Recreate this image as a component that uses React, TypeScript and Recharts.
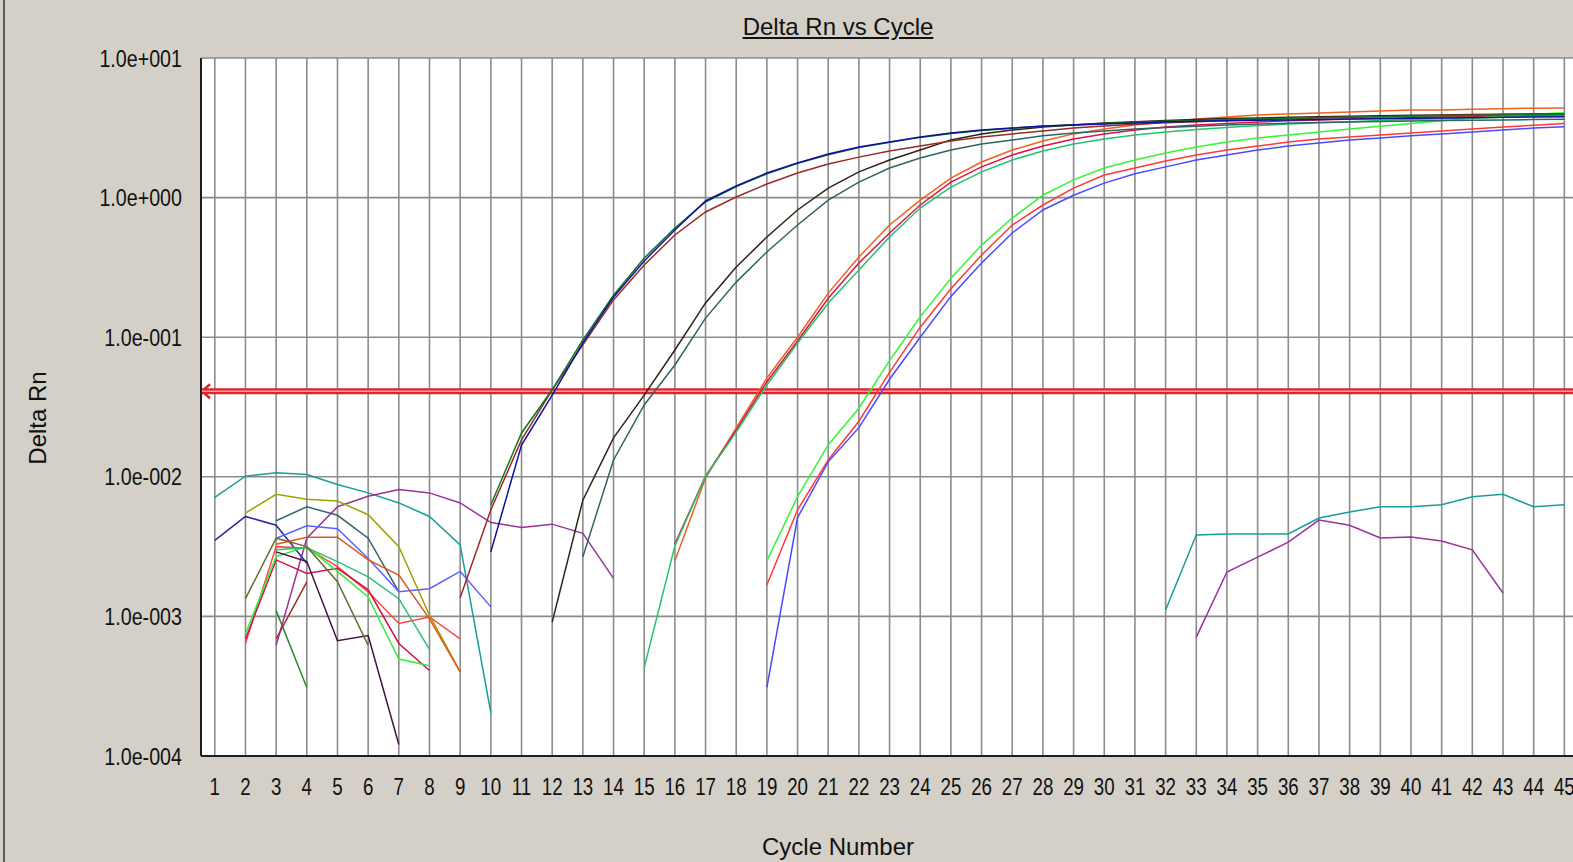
import React from "react";
import { LineChart, Line, XAxis, YAxis, CartesianGrid, ReferenceLine } from "recharts";

const cycles = [
  1, 2, 3, 4, 5, 6, 7, 8, 9, 10, 11, 12, 13, 14, 15, 16, 17, 18, 19, 20, 21, 22, 23,
  24, 25, 26, 27, 28, 29, 30, 31, 32, 33, 34, 35, 36, 37, 38, 39, 40, 41, 42, 43, 44, 45,
];
const yTicks = [0.0001, 0.001, 0.01, 0.1, 1, 10];
const threshold = 0.041;

// amplification curves (values start at the given cycle)
const ampNavy = [0.0029, 0.0169, 0.0385, 0.091, 0.194, 0.352, 0.586, 0.946, 1.21, 1.5, 1.77, 2.05, 2.3, 2.5, 2.72, 2.9, 3.05, 3.15, 3.26, 3.31, 3.37, 3.42, 3.48, 3.52, 3.55, 3.58, 3.6, 3.63, 3.65, 3.67, 3.7, 3.72, 3.74, 3.76, 3.78, 3.8];
const ampDkGreen = [0.0063, 0.0206, 0.042, 0.0955, 0.2, 0.369, 0.606, 0.93, 1.2, 1.48, 1.76, 2.03, 2.28, 2.49, 2.7, 2.88, 3.03, 3.14, 3.24, 3.32, 3.4, 3.46, 3.52, 3.57, 3.62, 3.66, 3.7, 3.74, 3.77, 3.8, 3.83, 3.86, 3.88, 3.9, 3.92, 3.94];
const ampMaroon = [0.00136, 0.0058, 0.0184, 0.0419, 0.088, 0.185, 0.329, 0.54, 0.789, 1.01, 1.25, 1.5, 1.74, 1.95, 2.16, 2.34, 2.54, 2.72, 2.86, 3.0, 3.15, 3.26, 3.35, 3.43, 3.5, 3.56, 3.62, 3.67, 3.72, 3.76, 3.8, 3.84, 3.87, 3.9, 3.93, 3.96, 3.98];
const ampBlack = [0.00091, 0.0068, 0.019, 0.0385, 0.081, 0.176, 0.318, 0.522, 0.815, 1.17, 1.53, 1.86, 2.19, 2.59, 2.86, 3.05, 3.2, 3.31, 3.42, 3.5, 3.57, 3.63, 3.68, 3.72, 3.76, 3.8, 3.83, 3.86, 3.89, 3.91, 3.93, 3.95, 3.97, 3.99];
const ampSlate = [0.00267, 0.0132, 0.0327, 0.0632, 0.137, 0.248, 0.408, 0.636, 0.96, 1.29, 1.63, 1.92, 2.19, 2.42, 2.59, 2.77, 2.9, 3.0, 3.1, 3.18, 3.25, 3.31, 3.36, 3.41, 3.45, 3.48, 3.51, 3.54, 3.56, 3.58, 3.6, 3.62, 3.64];
const ampOrange = [0.0025, 0.0098, 0.0224, 0.051, 0.1, 0.207, 0.375, 0.636, 0.96, 1.38, 1.8, 2.19, 2.54, 2.86, 3.1, 3.31, 3.48, 3.66, 3.78, 3.91, 3.97, 4.04, 4.1, 4.17, 4.24, 4.24, 4.3, 4.33, 4.37, 4.39];
const ampCrimson = [0.0033, 0.0101, 0.0216, 0.048, 0.094, 0.19, 0.34, 0.558, 0.885, 1.29, 1.66, 2.02, 2.34, 2.63, 2.86, 3.05, 3.2, 3.31, 3.4, 3.48, 3.55, 3.6, 3.66, 3.7, 3.74, 3.78, 3.81, 3.84, 3.86, 3.88];
const ampGreen = [0.00043, 0.0032, 0.0101, 0.0209, 0.0455, 0.0909, 0.176, 0.303, 0.522, 0.842, 1.19, 1.53, 1.86, 2.16, 2.42, 2.63, 2.81, 2.95, 3.08, 3.18, 3.28, 3.36, 3.43, 3.5, 3.56, 3.62, 3.67, 3.72, 3.77, 3.81, 3.85];
const ampLime = [0.0025, 0.0072, 0.0169, 0.031, 0.068, 0.14, 0.265, 0.457, 0.714, 1.04, 1.34, 1.63, 1.86, 2.09, 2.3, 2.5, 2.67, 2.81, 2.95, 3.1, 3.25, 3.4, 3.55, 3.7, 3.82, 3.95, 4.05];
const ampRed = [0.00168, 0.0058, 0.0132, 0.025, 0.056, 0.118, 0.222, 0.388, 0.636, 0.885, 1.17, 1.45, 1.63, 1.83, 2.02, 2.19, 2.34, 2.5, 2.63, 2.72, 2.81, 2.9, 3.0, 3.1, 3.2, 3.3, 3.4];
const ampBlue = [0.00031, 0.0051, 0.0128, 0.0225, 0.05, 0.1, 0.196, 0.34, 0.558, 0.815, 1.04, 1.27, 1.48, 1.66, 1.86, 2.02, 2.19, 2.34, 2.46, 2.59, 2.67, 2.77, 2.86, 2.95, 3.05, 3.15, 3.22];

// baseline noise
const noiseTeal = [0.00713, 0.0101, 0.0107, 0.0104, 0.0088, 0.00767, 0.0065, 0.0052, 0.00325, 0.000204];
const noiseTealLate = [0.00111, 0.00383, 0.0039, 0.0039, 0.0039, 0.00507, 0.0056, 0.0061, 0.0061, 0.0063, 0.0072, 0.0075, 0.0061, 0.0063];
const noisePurple = [0.00062, 0.00363, 0.0061, 0.00726, 0.0081, 0.00767, 0.0065, 0.0047, 0.00434, 0.00458, 0.00394, 0.00187];
const noisePurpleLate = [0.00071, 0.00208, 0.00266, 0.0034, 0.0049, 0.0045, 0.00365, 0.0037, 0.00347, 0.003, 0.00147];
const noiseOlive = [0.0055, 0.0075, 0.0069, 0.0067, 0.00535, 0.00316, 0.00102, 0.0004];
const noiseNavy = [0.0035, 0.0052, 0.0045, 0.0024];
const noiseSlate = [0.00484, 0.0061, 0.0053, 0.00363, 0.0015];
const noiseLightBlue = [0.00363, 0.00446, 0.00424, 0.0026, 0.0015, 0.00158, 0.0021, 0.00117];
const noiseOrange = [0.00329, 0.00369, 0.00369, 0.00254, 0.00198, 0.00096, 0.0004];
const noiseRed = [0.00064, 0.00316, 0.00308, 0.00227, 0.0015, 0.00089, 0.00099, 0.00069];
const noiseCrimson = [0.00069, 0.00254, 0.00203, 0.00221, 0.00155, 0.00064, 0.00041];
const noiseLime = [0.00075, 0.00268, 0.00316, 0.0021, 0.00138, 0.000495, 0.000443];
const noiseMedGreen = [0.003, 0.0031, 0.00247, 0.00192, 0.00134, 0.00058];
const noiseDkGreen = [0.0011, 0.00031];
const noiseDkPurple = [0.0029, 0.00247, 0.00067, 0.00073, 0.000121];
const noiseKhaki = [0.00134, 0.00363, 0.00316, 0.00177, 0.00062];
const noiseMaroon = [0.00069, 0.00177];

const series = [
  { key: "nTeal", start: 1, values: noiseTeal, color: "#1a9c9c" },
  { key: "nTealLate", start: 32, values: noiseTealLate, color: "#1a9c9c" },
  { key: "nPurple", start: 3, values: noisePurple, color: "#993399" },
  { key: "nPurpleLate", start: 33, values: noisePurpleLate, color: "#993399" },
  { key: "nOlive", start: 2, values: noiseOlive, color: "#a0a000" },
  { key: "nNavy", start: 1, values: noiseNavy, color: "#2b2b99" },
  { key: "nSlate", start: 3, values: noiseSlate, color: "#336666" },
  { key: "nLightBlue", start: 3, values: noiseLightBlue, color: "#5f5fff" },
  { key: "nOrange", start: 3, values: noiseOrange, color: "#e0551c" },
  { key: "nRed", start: 2, values: noiseRed, color: "#ff4444" },
  { key: "nCrimson", start: 2, values: noiseCrimson, color: "#d0104a" },
  { key: "nLime", start: 2, values: noiseLime, color: "#33ee33" },
  { key: "nMedGreen", start: 3, values: noiseMedGreen, color: "#2fbf73" },
  { key: "nDkGreen", start: 3, values: noiseDkGreen, color: "#2a8a2a" },
  { key: "nDkPurple", start: 3, values: noiseDkPurple, color: "#401040" },
  { key: "nKhaki", start: 2, values: noiseKhaki, color: "#6b6b30" },
  { key: "nMaroon", start: 3, values: noiseMaroon, color: "#a02a2a" },
  { key: "aOrange", start: 16, values: ampOrange, color: "#f0601e" },
  { key: "aCrimson", start: 16, values: ampCrimson, color: "#e0104f" },
  { key: "aGreen", start: 15, values: ampGreen, color: "#22c46a" },
  { key: "aLime", start: 19, values: ampLime, color: "#33f533" },
  { key: "aRed", start: 19, values: ampRed, color: "#ff3838" },
  { key: "aBlue", start: 19, values: ampBlue, color: "#4a4aff" },
  { key: "aSlate", start: 13, values: ampSlate, color: "#2f6464" },
  { key: "aBlack", start: 12, values: ampBlack, color: "#2a2614" },
  { key: "aMaroon", start: 9, values: ampMaroon, color: "#9a2a2a" },
  { key: "aDkGreen", start: 10, values: ampDkGreen, color: "#107a20" },
  { key: "aNavy", start: 10, values: ampNavy, color: "#1010a0" },
];

const rows = cycles.map((c) => {
  const r: any = { cycle: c };
  series.forEach((s) => {
    const i = c - s.start;
    r[s.key] = i >= 0 && i < s.values.length ? s.values[i] : null;
  });
  return r;
});

const FONT = "'Liberation Sans', Arial, sans-serif";

function fmtExp(v: number) {
  const e = Math.round(Math.log10(v));
  return "1.0e" + (e < 0 ? "-" : "+") + String(Math.abs(e)).padStart(3, "0");
}

const XTick = (props: any) => {
  const { x, y, payload } = props;
  return (
    <text transform={`translate(${x},${y + 39}) scale(0.78,1)`} textAnchor="middle" fontSize={24} fontFamily={FONT} fill="#111">
      {payload.value}
    </text>
  );
};

const YTick = (props: any) => {
  const { x, y, payload } = props;
  return (
    <text transform={`translate(${x - 19},${y + 8.5}) scale(0.82,1)`} textAnchor="end" fontSize={24} fontFamily={FONT} fill="#111">
      {fmtExp(payload.value)}
    </text>
  );
};

const renderYLabel = () => (
  <text transform="translate(46,418) rotate(-90)" textAnchor="middle" fontSize={24} fontFamily={FONT} fill="#111">
    Delta Rn
  </text>
);

const renderXLabel = () => (
  <text x={838} y={855} textAnchor="middle" fontSize={24} fontFamily={FONT} fill="#111">
    Cycle Number
  </text>
);

const renderArrow = (props: any) => {
  const vb = props.viewBox || {};
  const x = vb.x ?? 201;
  const y = vb.y ?? 391;
  return <path d={`M${x + 9},${y - 7} L${x + 1},${y} L${x + 9},${y + 7}`} stroke="#e0242c" strokeWidth={2.5} fill="none" />;
};

export default function App() {
  return (
    <div style={{ position: "absolute", left: 0, top: 0, width: 1573, height: 862, overflow: "hidden", background: "#d4d0c8" }}>
      <div style={{ position: "absolute", left: 3, top: 0, width: 2, height: 862, background: "#5a5a5a" }} />
      <div
        style={{
          position: "absolute",
          left: 688,
          top: 15,
          width: 300,
          textAlign: "center",
          fontFamily: FONT,
          fontSize: 24,
          lineHeight: "24px",
          color: "#111",
          textDecoration: "underline",
        }}
      >
        Delta Rn vs Cycle
      </div>
      <div style={{ position: "absolute", left: 0, top: 0 }}>
        <LineChart width={1600} height={862} data={rows} margin={{ top: 58, right: 5, bottom: 0, left: 0 }}>
          <CartesianGrid stroke="#8c8c8c" strokeWidth={1.6} fill="#ffffff" />
          <XAxis
            dataKey="cycle"
            type="number"
            domain={[0.55, 46]}
            allowDataOverflow
            ticks={cycles}
            interval={0}
            tickSize={0}
            tickMargin={0}
            tickLine={false}
            axisLine={{ stroke: "#1e1e1e", strokeWidth: 2 }}
            tick={<XTick />}
            height={106}
            label={renderXLabel}
          />
          <YAxis
            scale="log"
            domain={[0.0001, 10]}
            allowDataOverflow
            ticks={yTicks}
            interval={0}
            tickSize={0}
            tickMargin={0}
            tickLine={false}
            axisLine={{ stroke: "#1e1e1e", strokeWidth: 2 }}
            tick={<YTick />}
            width={201}
            label={renderYLabel}
          />
          <ReferenceLine y={threshold} stroke="#e0242c" strokeWidth={6} label={renderArrow} />
          <ReferenceLine y={threshold} stroke="#f4a4a4" strokeWidth={1.5} />
          {series.map((s) => (
            <Line
              key={s.key}
              dataKey={s.key}
              stroke={s.color}
              strokeWidth={1.5}
              dot={false}
              connectNulls={false}
              isAnimationActive={false}
              type="linear"
            />
          ))}
        </LineChart>
      </div>
    </div>
  );
}
